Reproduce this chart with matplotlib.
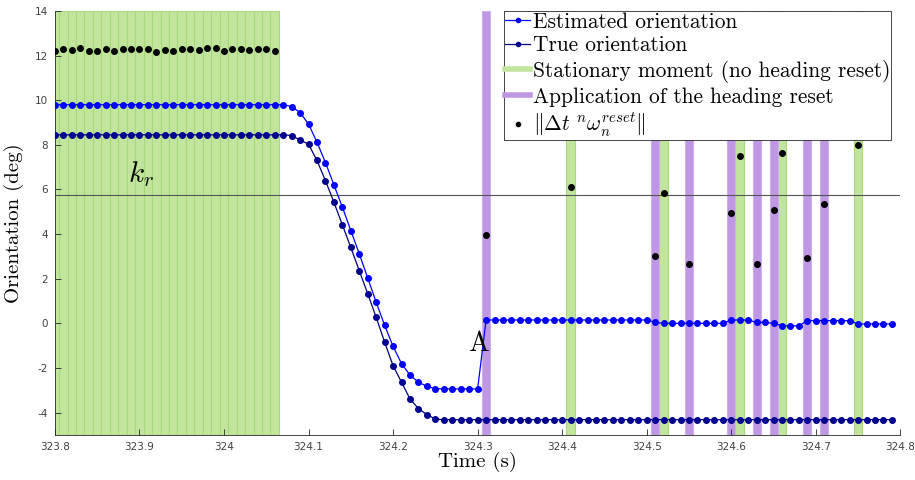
import numpy as np
import matplotlib
matplotlib.use("Agg")
import matplotlib.pyplot as plt
from matplotlib.lines import Line2D

# --- data -------------------------------------------------------------
t0 = 323.80
dt = 0.01

# estimated orientation (deg), one sample every 10 ms from 323.80 to 324.79
est_flat = [9.80] * 28  # 323.80 .. 324.07
est_drop = [9.72, 9.45, 8.93, 8.12, 7.21, 6.21, 5.21, 4.16, 3.12, 2.03, 0.95,
            -0.09, -1.03, -1.81, -2.32, -2.64, -2.82, -2.93,
            -2.94, -2.94, -2.94, -2.94, -2.94]  # 324.08 .. 324.30
est_after = ([0.15] * 20 +                                   # 324.31 .. 324.50
             [0.04, 0.00, 0.00, 0.00, 0.00, 0.00, 0.00, 0.00, 0.00,  # 324.51 .. 324.59
              0.15, 0.15, 0.15, 0.04, 0.04, 0.00, -0.11, -0.11, -0.11,  # 324.60 .. 324.68
              0.12, 0.12, 0.12, 0.12, 0.12, 0.12,                # 324.69 .. 324.74
              -0.03, -0.03, -0.03, -0.03, -0.03])                # 324.75 .. 324.79
estimated = est_flat + est_drop + est_after

true_flat = [8.45] * 28  # 323.80 .. 324.07
true_drop = [8.42, 8.22, 8.03, 7.30, 6.40, 5.43, 4.42, 3.40, 2.36, 1.33, 0.27,
             -0.84, -1.90, -2.64, -3.39, -3.82, -4.09, -4.29]  # 324.08 .. 324.25
true_after = [-4.32] * 54  # 324.26 .. 324.79
true_orient = true_flat + true_drop + true_after

time = t0 + dt * np.arange(len(estimated))

# stationary moments without heading reset (green) and resets (purple)
stat_early = list(np.round(t0 + dt * np.arange(27), 2))  # 323.80 .. 324.06
stat_early_norm = [12.22, 12.28, 12.25, 12.33, 12.22, 12.21, 12.28, 12.21,
                   12.30, 12.31, 12.28, 12.31, 12.18, 12.25, 12.22, 12.31,
                   12.28, 12.25, 12.34, 12.33, 12.21, 12.28, 12.28, 12.25,
                   12.28, 12.28, 12.21]
stat_late = [324.41, 324.52, 324.61, 324.66, 324.75]
stat_late_norm = [6.13, 5.83, 7.48, 7.63, 7.98]
reset_times = [324.31, 324.51, 324.55, 324.60, 324.63, 324.65, 324.69, 324.71]
reset_norm = [3.96, 3.01, 2.68, 4.94, 2.68, 5.09, 2.94, 5.37]

k_r = 5.76

# --- plot -------------------------------------------------------------
green = "#c2e59d"
purple = "#bf97e4"
serif = "cmr10"
plt.rcParams["mathtext.fontset"] = "cm"
plt.rcParams["axes.unicode_minus"] = False

fig = plt.figure(figsize=(9.15, 4.8), dpi=100)
ax = fig.add_axes([0.060, 0.094, 0.924, 0.883])

for t in stat_early + stat_late:
    ax.axvspan(t - dt / 2, t + dt / 2, facecolor=green, edgecolor="#a6d97a",
               linewidth=0.8, zorder=1)
for t in reset_times:
    ax.axvspan(t - dt / 2 + 0.0003, t + dt / 2 - 0.0003, facecolor=purple,
               edgecolor="#cdb0ec", linewidth=0.8, zorder=1)

ax.axhline(k_r, color="#555555", linewidth=0.8, zorder=2)

ax.plot(time, estimated, color="#0000ff", linewidth=0.9, marker="o",
        markersize=4, zorder=3)
ax.plot(time, true_orient, color="#00007a", linewidth=0.9, marker="o",
        markerfacecolor="#000090", markeredgecolor="#000090", markersize=4,
        zorder=3)
ax.plot(stat_early + stat_late + reset_times,
        stat_early_norm + stat_late_norm + reset_norm,
        linestyle="none", marker="o", color="black", markersize=4, zorder=4)

ax.text(323.902, 6.0, r"$k_r$", fontsize=21, ha="center", va="bottom")
ax.text(324.3135, -0.9, "A", family=serif, fontsize=20, ha="right",
        va="center", zorder=5)

ax.set_xlim(323.8, 324.8)
ax.set_ylim(-5, 14)
ax.set_xticks(np.round(np.arange(323.8, 324.81, 0.1), 1))
ax.set_xticklabels(["323.8", "323.9", "324", "324.1", "324.2", "324.3",
                    "324.4", "324.5", "324.6", "324.7", "324.8"])
ax.set_yticks(range(-4, 15, 2))
ax.tick_params(direction="in", length=4, width=0.6, labelsize=7.5,
               colors="#262626", labelcolor="#404040", pad=5)
for side in ["top", "right"]:
    ax.spines[side].set_visible(False)
for side in ["left", "bottom"]:
    ax.spines[side].set_color("#262626")
    ax.spines[side].set_linewidth(0.6)

ax.set_xlabel("Time (s)", family=serif, fontsize=15, labelpad=0)
ax.set_ylabel("Orientation (deg)", family=serif, fontsize=15, labelpad=8)

handles = [
    Line2D([], [], color="#0000ff", marker="o", markersize=3, linewidth=0.9),
    Line2D([], [], color="#00007a", marker="o", markersize=3, linewidth=0.9,
           markerfacecolor="#000090", markeredgecolor="#000090"),
    Line2D([], [], color=green, linewidth=4),
    Line2D([], [], color=purple, linewidth=4),
    Line2D([], [], color="black", marker="o", markersize=3, linestyle="none"),
]
labels = [
    "Estimated orientation",
    "True orientation",
    "Stationary moment (no heading reset)",
    "Application of the heading reset",
    r"$\Vert\Delta t\ ^n\omega_n^{reset}\Vert$",
]
leg = ax.legend(handles, labels, loc="upper right",
                bbox_to_anchor=(0.9895, 1.0), prop={"family": serif, "size": 15.4},
                handlelength=1.2, handletextpad=0.12, labelspacing=0.2,
                borderpad=0.05, borderaxespad=0.0, fancybox=False,
                framealpha=1.0, edgecolor="#262626")
leg.get_frame().set_linewidth(0.6)

fig.savefig("out.png", dpi=100)
